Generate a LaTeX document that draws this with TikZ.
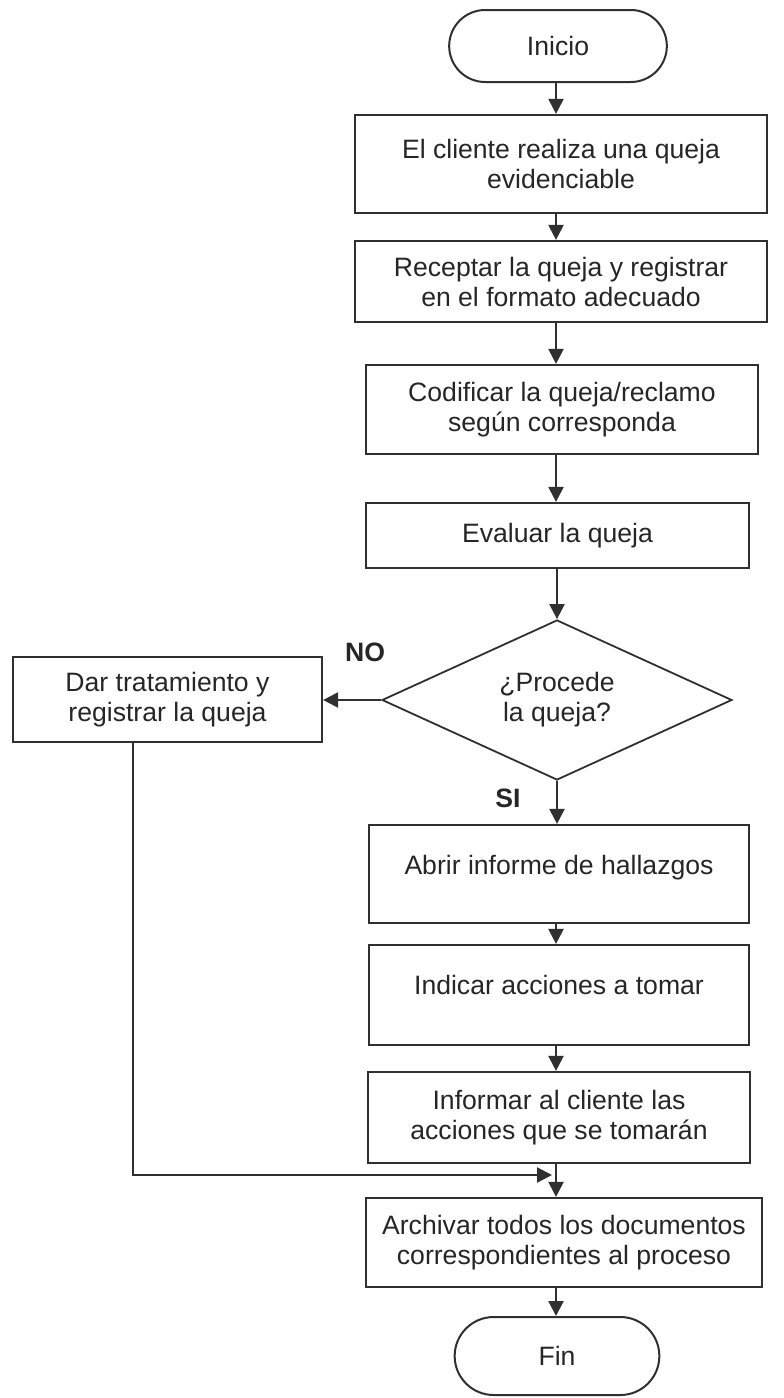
\documentclass[tikz,border=0pt]{standalone}
\usepackage{fontspec}
\setmainfont{Liberation Sans}
\usetikzlibrary{arrows.meta,shapes.geometric,shapes.misc}

\definecolor{ink}{HTML}{262626}
\definecolor{edge}{HTML}{303030}

\begin{document}
\begin{tikzpicture}[x=0.5pt,y=-0.5pt,
  every node/.style={font=\fontsize{13.3pt}{15pt}\selectfont, text=ink},
  stepbox/.style={draw=edge, line width=1.1pt, rectangle, align=center, inner sep=2pt},
  terminal/.style={draw=edge, line width=1pt, rounded rectangle, align=center},
  decision/.style={draw=edge, line width=0.9pt, diamond, aspect=2.2, inner sep=1pt, align=center,
                   minimum width=175pt, minimum height=80pt},
  answer/.style={font=\fontsize{13.3pt}{15pt}\selectfont\bfseries},
  flow/.style={draw=edge, line width=1.1pt, -{Triangle[width=7.5pt,length=7.5pt]}}]

  \useasboundingbox (0,0) rectangle (783,1398);

  % main column of the flow
  \coordinate (spine) at (556,0);

  \node[terminal, minimum width=115.5pt, minimum height=36pt] (inicio) at (558,46) {Inicio};
  \node[stepbox, minimum width=206pt, minimum height=49pt] (b1) at (561,164)
    {El cliente realiza una queja\\evidenciable};
  \node[stepbox, minimum width=206pt, minimum height=40.5pt] (b2) at (561,281.5)
    {Receptar la queja y registrar\\en el formato adecuado};
  \node[stepbox, minimum width=196pt, minimum height=44.5pt] (b3) at (562,409.5)
    {Codificar la queja/reclamo\\según corresponda};
  \node[stepbox, minimum width=191.5pt, minimum height=32.5pt] (b4) at (557.5,535.5)
    {Evaluar la queja};
  \node[decision] (dec) at (557,700) {¿Procede\\la queja?};
  \node[stepbox, minimum width=154.5pt, minimum height=42.5pt] (left) at (167.5,699.5)
    {Dar tratamiento y\\registrar la queja};
  \node[stepbox, minimum width=190pt, minimum height=49pt] (b5) at (559,874)
    {\raisebox{9pt}{Abrir informe de hallazgos}};
  \node[stepbox, minimum width=190pt, minimum height=50pt] (b6) at (559,995)
    {\raisebox{10pt}{Indicar acciones a tomar}};
  \node[stepbox, minimum width=191pt, minimum height=45.5pt] (b7) at (559,1117.5)
    {Informar al cliente las\\acciones que se tomarán};
  \node[stepbox, minimum width=198pt, minimum height=44.5pt] (b8) at (564,1242.5)
    {Archivar todos los documentos\\correspondientes al proceso};
  \node[terminal, minimum width=109pt, minimum height=39pt] (fin) at (557,1356) {Fin};

  \node[answer] (no) at (365,652) {NO};
  \node[answer] (si) at (508,798) {SI};

  % sequential steps
  \draw[flow] (inicio.south -| spine) -- (b1.north -| spine);
  \draw[flow] (b1.south -| spine) -- (b2.north -| spine);
  \draw[flow] (b2.south -| spine) -- (b3.north -| spine);
  \draw[flow] (b3.south -| spine) -- (b4.north -| spine);
  \draw[flow] (b4.south -| dec.north) -- (dec.north);
  \draw[flow] (dec.west) -- (left.east |- dec.west);
  \draw[flow] (dec.south) -- (b5.north -| dec.south);
  \draw[flow] (b5.south -| spine) -- (b6.north -| spine);
  \draw[flow] (b6.south -| spine) -- (b7.north -| spine);
  \draw[flow] (b7.south -| spine) -- (b8.north -| spine);
  \draw[flow] (b8.south -| spine) -- (fin.north -| spine);

  % rejected complaints rejoin before archiving
  \coordinate (merge) at (552,1175);
  \draw[flow] ([xshift=-17.25pt]left.south) |- (merge);
\end{tikzpicture}
\end{document}
